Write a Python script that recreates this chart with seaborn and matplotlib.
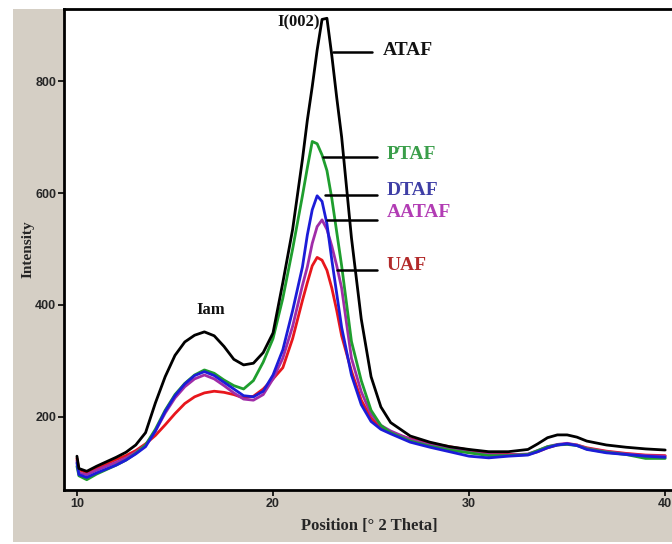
import numpy as np
import pandas as pd
import matplotlib
matplotlib.use("Agg")
import matplotlib.pyplot as plt
from matplotlib.patches import Rectangle
import seaborn as sns

# ---------------- data ----------------
two_theta = [10.0, 10.1, 10.5, 11, 11.5, 12, 12.5, 13, 13.5, 14, 14.5, 15, 15.5, 16, 16.5,
             17, 17.5, 18, 18.5, 19, 19.5, 20, 20.5, 21, 21.5, 21.75, 22, 22.25, 22.5,
             22.75, 23, 23.25, 23.5, 24, 24.5, 25, 25.5, 26, 27, 28, 29, 30, 31, 32, 33,
             33.5, 34, 34.5, 35, 35.5, 36, 37, 38, 39, 40]

ataf = [130, 108, 103, 112, 120, 128, 137, 150, 172, 225, 272, 310, 334, 346, 352,
        345, 326, 303, 293, 296, 315, 350, 440, 535, 660, 730, 790, 855, 910,
        912, 845, 770, 700, 520, 375, 272, 218, 190, 166, 155, 147, 142, 138, 138, 142,
        152, 163, 168, 168, 164, 157, 150, 146, 143, 141]

ptaf = [112, 95, 88, 98, 106, 114, 123, 135, 150, 178, 212, 240, 260, 275, 284,
        278, 266, 256, 250, 265, 298, 340, 412, 500, 595, 645, 692, 688, 668,
        640, 590, 530, 470, 335, 265, 212, 185, 172, 157, 148, 141, 136, 131, 131, 133,
        140, 147, 150, 151, 149, 143, 137, 133, 126, 126]

dtaf = [118, 97, 92, 100, 107, 114, 123, 134, 147, 175, 210, 238, 259, 274, 281,
        274, 262, 250, 238, 236, 246, 275, 320, 390, 468, 525, 570, 595, 585,
        545, 480, 420, 360, 275, 222, 192, 178, 170, 155, 146, 138, 130, 127, 130, 132,
        138, 145, 150, 152, 149, 142, 136, 133, 130, 128]

aataf = [122, 100, 97, 105, 112, 119, 127, 137, 150, 175, 207, 234, 254, 268, 275,
         268, 256, 243, 232, 230, 240, 268, 305, 362, 435, 468, 510, 540, 552,
         535, 505, 470, 430, 305, 245, 205, 185, 175, 160, 150, 144, 137, 133, 132, 134,
         140, 147, 151, 153, 150, 144, 138, 134, 131, 130]

uaf = [126, 106, 100, 108, 116, 124, 131, 140, 152, 167, 186, 206, 224, 236, 243,
       246, 244, 240, 234, 237, 250, 268, 288, 340, 408, 440, 470, 485, 480,
       462, 430, 390, 345, 282, 230, 198, 180, 172, 161, 153, 147, 141, 136, 133, 133,
       138, 145, 150, 152, 150, 145, 139, 135, 132, 131]

samples = ["UAF", "AATAF", "PTAF", "DTAF", "ATAF"]
series = {"ATAF": ataf, "PTAF": ptaf, "DTAF": dtaf, "AATAF": aataf, "UAF": uaf}

x_ticks = [10, 20, 30, 40]
y_ticks = [200, 400, 600, 800]

# ---------------- style ----------------
line_colors = {"ATAF": "#000000", "PTAF": "#1f9e2e", "DTAF": "#1c1cd8",
               "AATAF": "#a02ca8", "UAF": "#e8161c"}
label_colors = {"ATAF": "#111111", "PTAF": "#3a9e4a", "DTAF": "#3f3fa6",
                "AATAF": "#b23cb4", "UAF": "#b22a2a"}

# leader line (x0, x1, y) and label (x, y) in data units
leaders = {"ATAF": (23.06, 25.05, 852, 25.6, 855),
           "PTAF": (22.55, 25.3, 664, 25.8, 668),
           "DTAF": (22.65, 25.3, 596, 25.8, 605),
           "AATAF": (22.76, 25.3, 551, 25.8, 566),
           "UAF": (23.27, 25.3, 462, 25.8, 471)}

rows = []
for name in samples:
    for xv, yv in zip(two_theta, series[name]):
        rows.append((name, xv, yv))
df = pd.DataFrame(rows, columns=["sample", "pos", "intensity"])

sns.set_style("white")
serif = ["Liberation Serif", "DejaVu Serif"]

fig = plt.figure(figsize=(6.72, 5.44), dpi=100)
fig.patch.set_facecolor("white")
fig.patches.append(Rectangle((13 / 672, 2 / 544), (672 - 13) / 672, (542 - 9) / 544,
                             transform=fig.transFigure, facecolor="#d5cfc5",
                             edgecolor="none", zorder=-10))

ax = fig.add_axes([64 / 672, 54 / 544, (674 - 64) / 672, (490 - 9) / 544])
ax.set_facecolor("white")

sns.lineplot(data=df, x="pos", y="intensity", hue="sample", hue_order=samples,
             palette=line_colors, estimator=None, sort=False, legend=False,
             linewidth=2.0, ax=ax)

ax.set_xlim(9.34, 40.45)
ax.set_ylim(69.6, 928.6)
ax.set_xticks(x_ticks)
ax.set_yticks(y_ticks)
ax.set_xticklabels([str(v) for v in x_ticks], family="Liberation Sans", fontsize=9,
                   fontweight="bold")
ax.set_yticklabels([str(v) for v in y_ticks], family="Liberation Sans", fontsize=9,
                   fontweight="bold")
ax.tick_params(axis="both", direction="out", length=4, width=1.2, color="black",
               pad=1.5, bottom=True, left=True)

for side in ["left", "bottom", "top"]:
    ax.spines[side].set_visible(True)
    ax.spines[side].set_linewidth(2.0)
    ax.spines[side].set_color("black")
ax.spines["right"].set_visible(False)

ax.set_xlabel("Position [° 2 Theta]", family=serif, fontsize=12, fontweight="bold",
              labelpad=6)
ax.set_ylabel("Intensity", family=serif, fontsize=11, fontweight="bold", labelpad=0.5)

for name, (x0, x1, yl, xt, yt) in leaders.items():
    ax.plot([x0, x1], [yl, yl], color="black", linewidth=1.8, zorder=5)
    ax.text(xt, yt, name, color=label_colors[name], family=serif, fontsize=14,
            fontweight="bold", ha="left", va="center", zorder=6)

ax.text(22.4, 905, "I(002)", family=serif, fontsize=12, fontweight="bold",
        ha="right", va="center", color="#111111")
ax.text(16.8, 391, "Iam", family=serif, fontsize=12, fontweight="bold",
        ha="center", va="center", color="#111111")

fig.savefig("out.png", dpi=100, facecolor=fig.get_facecolor())
